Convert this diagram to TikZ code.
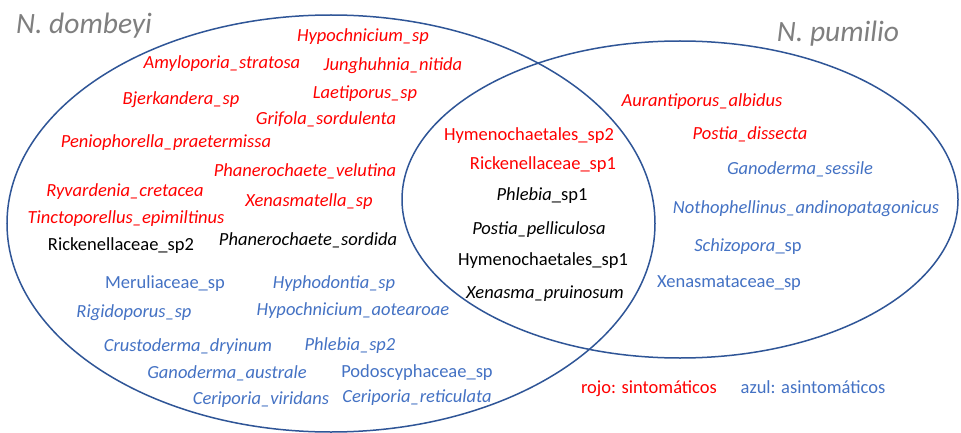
\documentclass[tikz,border=0pt]{standalone}
\usepackage{fontspec}
\setmainfont{Carlito}
\definecolor{vred}{HTML}{FF0000}
\definecolor{vblue}{HTML}{4472C4}
\definecolor{vgray}{HTML}{7F7F7F}
\definecolor{vline}{HTML}{2F5597}
\begin{document}
\begin{tikzpicture}[x=1pt,y=-1pt,
  lab/.style={inner sep=0pt, anchor=base, font=\fontsize{18.5}{22}\selectfont},
  sred/.style={lab, text=vred},
  sblue/.style={lab, text=vblue},
  sblack/.style={lab, text=black},
  it/.append style={font=\fontsize{18.5}{22}\selectfont\itshape},
  titlestyle/.style={inner sep=0pt, anchor=base, text=vgray, font=\fontsize{29.5}{34}\selectfont\itshape},
  ring/.style={draw=vline, line width=1.5pt}]
\useasboundingbox (0,0) rectangle (961,433);
\fill[white] (0,0) rectangle (961,433);
\draw[ring] (331,223.5) ellipse [x radius=324pt, y radius=208.5pt];
\draw[ring] (680,199.5) ellipse [x radius=278pt, y radius=158.5pt];
% titles
\node[titlestyle] (tdom) at (84,34) {N. dombeyi};
\node[titlestyle] (tpum) at (838,42) {N. pumilio};
% left, red
\node[sred,it] (l1) at (363,42) {Hypochnicium\_sp};
\node[sred,it] (l2) at (222,69) {Amyloporia\_stratosa};
\node[sred,it] (l3) at (393,71) {Junghuhnia\_nitida};
\node[sred,it] (l4) at (181,105) {Bjerkandera\_sp};
\node[sred,it] (l5) at (365,99) {Laetiporus\_sp};
\node[sred,it] (l6) at (326,125) {Grifola\_sordulenta};
\node[sred,it] (l7) at (166,148) {Peniophorella\_praetermissa};
\node[sred,it] (l8) at (305,176) {Phanerochaete\_velutina};
\node[sred,it] (l9) at (125,196) {Ryvardenia\_cretacea};
\node[sred,it] (l10) at (309,206) {Xenasmatella\_sp};
\node[sred,it] (l11) at (126,223) {Tinctoporellus\_epimiltinus};
% left, black
\node[sblack] (l12) at (121,250) {Rickenellaceae\_sp2};
\node[sblack,it] (l13) at (308,245) {Phanerochaete\_sordida};
% left, blue
\node[sblue] (l14) at (165,288) {Meruliaceae\_sp};
\node[sblue,it] (l15) at (334,288) {Hyphodontia\_sp};
\node[sblue,it] (l16) at (134,317) {Rigidoporus\_sp};
\node[sblue,it] (l17) at (353,315) {Hypochnicium\_aotearoae};
\node[sblue,it] (l18) at (188,351) {Crustoderma\_dryinum};
\node[sblue,it] (l19) at (350,350) {Phlebia\_sp2};
\node[sblue,it] (l20) at (227,378) {Ganoderma\_australe};
\node[sblue] (l21) at (417,377) {Podoscyphaceae\_sp};
\node[sblue,it] (l22) at (261,404) {Ceriporia\_viridans};
\node[sblue,it] (l23) at (417,402) {Ceriporia\_reticulata};
% intersection
\node[sred] (m1) at (529,141) {Hymenochaetales\_sp2};
\node[sred] (m2) at (543,169) {Rickenellaceae\_sp1};
\node[sblack] (m3) at (542,200) {\textit{Phlebia}\_sp1};
\node[sblack,it] (m4) at (539,234) {Postia\_pelliculosa};
\node[sblack] (m5) at (543,265) {Hymenochaetales\_sp1};
\node[sblack,it] (m6) at (545,298) {Xenasma\_pruinosum};
% right
\node[sred,it] (r1) at (702,107) {Aurantiporus\_albidus};
\node[sred,it] (r2) at (750,140) {Postia\_dissecta};
\node[sblue,it] (r3) at (800,174) {Ganoderma\_sessile};
\node[sblue,it] (r4) at (806,213) {Nothophellinus\_andinopatagonicus};
\node[sblue] (r5) at (748,251) {\textit{Schizopora}\_sp};
\node[sblue] (r6) at (729,287) {Xenasmataceae\_sp};
% legend
\node[sred] (g1) at (649,393) {rojo: sintomáticos};
\node[sblue] (g2) at (813,393) {azul: asintomáticos};
\end{tikzpicture}
\end{document}
